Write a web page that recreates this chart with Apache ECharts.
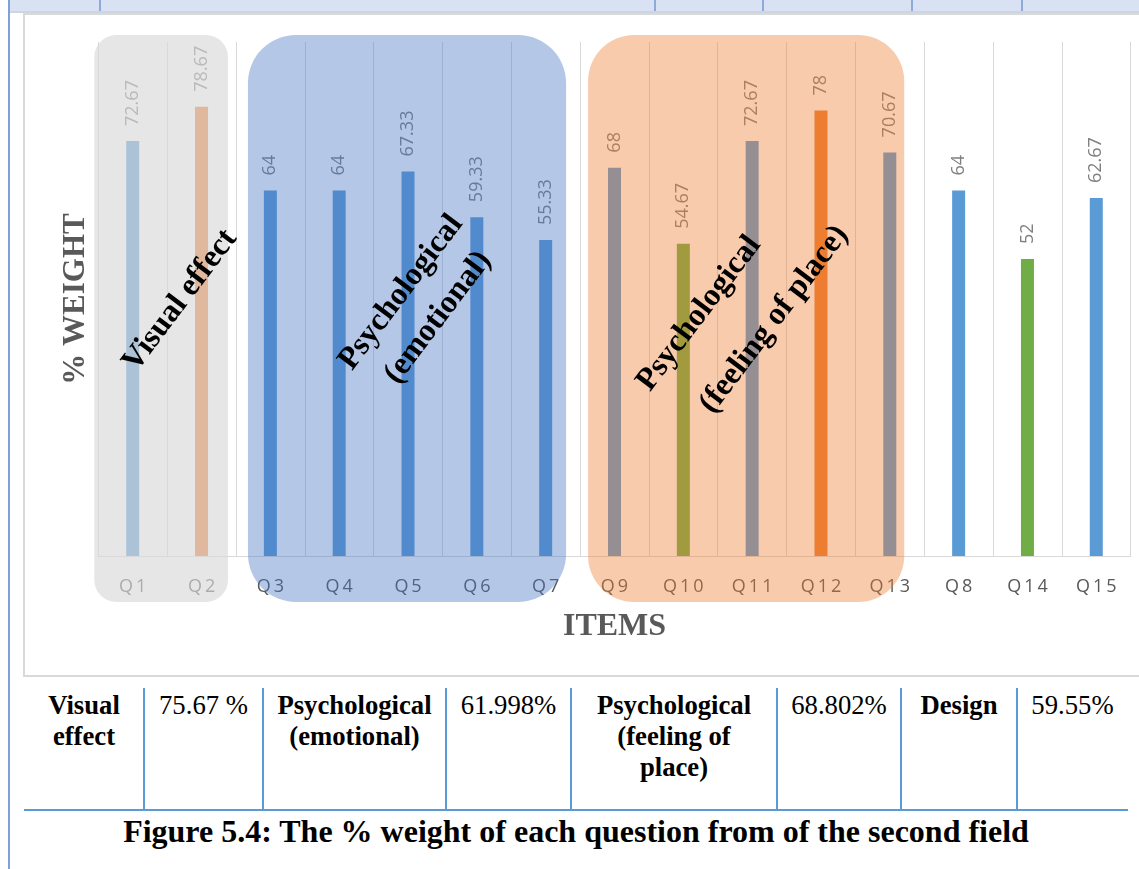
<!DOCTYPE html>
<html>
<head>
<meta charset="utf-8">
<script src="https://cdn.jsdelivr.net/npm/echarts@6/dist/echarts.min.js"></script>
<style>
html,body{margin:0;padding:0;background:#fff;}
#page{position:relative;width:1139px;height:869px;overflow:hidden;font-family:"Liberation Serif","Times New Roman",serif;color:#000;}
#band{position:absolute;left:10px;top:0;width:1129px;height:11px;background:#d9e2f3;border-bottom:2px solid #cfd5e0;}
.bandline{position:absolute;top:0;width:2px;height:11px;background:#8eaadb;}
#leftline{position:absolute;left:8px;top:0;width:2px;height:869px;background:#7fa0d8;}
#frame{position:absolute;left:23px;top:13px;width:1130px;height:664px;border:2px solid #d9d9d9;box-sizing:border-box;}
#chart{position:absolute;left:0;top:0;width:1139px;height:680px;}
.vline{position:absolute;top:688px;height:122px;width:2px;background:#5b9bd5;}
#hline{position:absolute;left:24px;top:809px;width:1104px;height:2px;background:#5b9bd5;}
.cell{position:absolute;top:690px;text-align:center;font-size:26.7px;line-height:31px;white-space:pre-line;}
.cell.name{font-weight:bold;}
#caption{position:absolute;left:24px;width:1104px;top:813px;text-align:center;font-weight:bold;font-size:32px;line-height:36px;}
</style>
</head>
<body>
<div id="page">
  <div id="leftline"></div>
  <div id="band"></div>
  <div id="frame"></div>
  <div id="chart"></div>
  <div id="hline"></div>
  <div id="caption"></div>
</div>
<script>
// ---- data ----
const categories = ['Q1','Q2','Q3','Q4','Q5','Q6','Q7','Q9','Q10','Q11','Q12','Q13','Q8','Q14','Q15'];
const weights = [72.67, 78.67, 64, 64, 67.33, 59.33, 55.33, 68, 54.67, 72.67, 78, 70.67, 64, 52, 62.67];
const barColorKeys = ['blue','orange','blue','blue','blue','blue','blue','blue','green','blue','orange','blue','blue','green','blue'];
const groupLabels = ['Visual effect', 'Psychological\n(emotional)', 'Psychological\n(feeling of place)'];
const groupFirst = ['Q1', 'Q3', 'Q9'];
const groupLast = ['Q2', 'Q7', 'Q13'];
const yAxisTitle = '% WEIGHT';
const xAxisTitle = 'ITEMS';
const tableNames = ['Visual\neffect', 'Psychological\n(emotional)', 'Psychological\n(feeling of\nplace)', 'Design'];
const tableValues = ['75.67 %', '61.998%', '68.802%', '59.55%'];
const captionText = 'Figure 5.4: The % weight of each question from of the second field';
const yMin = 0, yMax = 90;

// ---- styles / layout ----
const palette = {blue:'#5b9bd5', orange:'#ed7d31', green:'#70ad47'};
const overlayStyle = [
  {fill:'rgba(217,217,217,0.65)', r:22, insetL:-4, insetR:8,  text:[[19,-18]]},
  {fill:'rgba(68,114,196,0.40)',  r:48, insetL:12, insetR:14, text:[[-6,-26],[31,-1]]},
  {fill:'rgba(237,125,49,0.40)',  r:46, insetL:8,  insetR:20, text:[[-47,-5],[28,1]]}
];
const textAngle = 53 * Math.PI / 180;
const bandLinesX = [100, 655, 763, 912, 1022];
const tableCols = [24, 144, 263, 446, 571, 777, 901, 1017, 1128];

// ---- page decoration / table ----
const page = document.getElementById('page');
bandLinesX.forEach(x => {
  const d = document.createElement('div'); d.className = 'bandline'; d.style.left = (x-1) + 'px'; page.appendChild(d);
});
tableCols.slice(1, -1).forEach(x => {
  const d = document.createElement('div'); d.className = 'vline'; d.style.left = (x-1) + 'px'; page.appendChild(d);
});
for (let i = 0; i < tableNames.length; i++) {
  const texts = [tableNames[i], tableValues[i]];
  for (let k = 0; k < 2; k++) {
    const c = 2*i + k;
    const d = document.createElement('div');
    d.className = 'cell' + (k === 0 ? ' name' : '');
    d.style.left = tableCols[c] + 'px';
    d.style.width = (tableCols[c+1] - tableCols[c]) + 'px';
    d.textContent = texts[k];
    page.appendChild(d);
  }
}
document.getElementById('caption').textContent = captionText;

// ---- chart ----
const chart = echarts.init(document.getElementById('chart'), null, {renderer:'canvas'});
const groupData = groupFirst.map((g, i) => [categories.indexOf(g), categories.indexOf(groupLast[i]), i]);

const option = {
  animation: false,
  grid: {left: 98.3, right: 8.3, top: 42, bottom: 124, containLabel: false},
  xAxis: {
    type: 'category', data: categories,
    axisTick: {show: false},
    axisLine: {lineStyle: {color: '#d9d9d9', width: 1}},
    splitLine: {show: true, lineStyle: {color: '#d9d9d9', width: 1}},
    axisLabel: {color: '#595959', fontSize: 18, fontFamily: 'Open Sans', margin: 22,
      formatter: v => v.split('').join('\u2009')},
    name: xAxisTitle, nameLocation: 'middle', nameGap: 55,
    nameTextStyle: {fontFamily: 'Liberation Serif', fontWeight: 'bold', fontSize: 32, color: '#595959'}
  },
  yAxis: {
    type: 'value', min: yMin, max: yMax,
    axisLabel: {show: false}, axisLine: {show: false}, axisTick: {show: false}, splitLine: {show: false},
    name: yAxisTitle, nameLocation: 'middle', nameGap: 7, nameRotate: 90,
    nameTextStyle: {fontFamily: 'Liberation Serif', fontWeight: 'bold', fontSize: 31, color: '#595959'}
  },
  series: [
    {
      type: 'bar', z: 2, barWidth: 13,
      data: weights.map((v, i) => ({value: v, itemStyle: {color: palette[barColorKeys[i]]}})),
      label: {show: true, position: 'top', rotate: 90, align: 'left', verticalAlign: 'middle', distance: 15,
        color: '#808080', fontSize: 18, fontFamily: 'Open Sans'}
    },
    {
      type: 'custom', z: 5, clip: false, silent: true,
      encode: {x: [0, 1], y: 2},
      data: groupData,
      renderItem: function (params, api) {
        const gi = api.value(2);
        const st = overlayStyle[gi];
        const p0 = api.coord([api.value(0), 0]);
        const p1 = api.coord([api.value(1), 0]);
        const bw = api.size([1, 0])[0];
        const top = api.coord([0, yMax])[1] - 7;
        const bottom = p0[1] + 46;
        const x0 = p0[0] - bw / 2 + st.insetL;
        const x1 = p1[0] + bw / 2 - st.insetR;
        const cx = (x0 + x1) / 2, cy = (top + bottom) / 2;
        const children = [{type: 'rect', shape: {x: x0, y: top, width: x1 - x0, height: bottom - top, r: st.r},
          style: {fill: st.fill}}];
        groupLabels[gi].split('\n').forEach((t, k) => {
          children.push({type: 'text', x: cx + st.text[k][0], y: cy + st.text[k][1], rotation: textAngle, z2: 20,
            style: {text: t, fill: '#000', fontFamily: 'Liberation Serif', fontWeight: 'bold', fontSize: 32,
              align: 'center', verticalAlign: 'middle'}});
        });
        return {type: 'group', children: children};
      }
    }
  ]
};
chart.setOption(option);
</script>
</body>
</html>
